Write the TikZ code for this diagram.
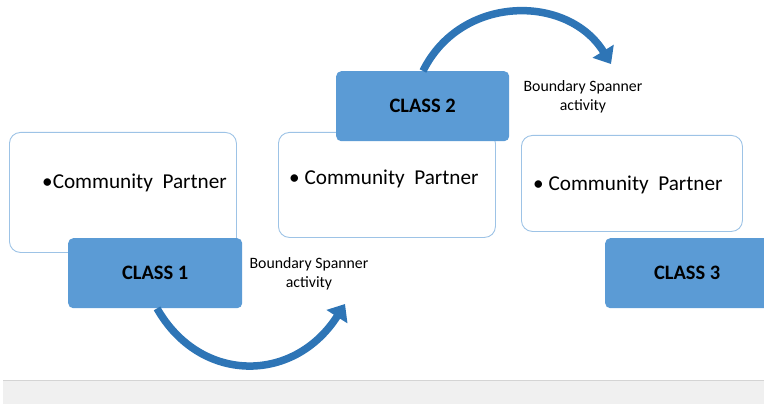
\documentclass[tikz,border=0pt]{standalone}
\usepackage{fontspec}
\setmainfont{Carlito}
\usetikzlibrary{arrows.meta,calc}
\definecolor{classfill}{HTML}{5B9BD5}
\definecolor{arrowblue}{HTML}{2E75B6}
\definecolor{boxline}{HTML}{9DC3E6}
\definecolor{bandgray}{HTML}{F0F0F0}
\definecolor{bandline}{HTML}{D4D4D4}
\tikzset{
  partnerbox/.style={draw=boxline, line width=0.9pt, fill=white, rounded corners=11pt, anchor=north west, inner sep=0pt},
  classbox/.style={fill=classfill, rounded corners=5pt, anchor=north west, inner sep=0pt, font=\fontsize{20.5}{24}\selectfont\bfseries, text=black},
  partnertext/.style={anchor=west, font=\fontsize{21.2}{25}\selectfont, inner sep=0pt},
  spannertext/.style={align=center, font=\fontsize{15.8}{19}\selectfont, inner sep=0pt},
  bigarrow/.style={draw=arrowblue, line width=7.5pt, -{Triangle[length=15pt,width=24pt]}},
}
\begin{document}
\begin{tikzpicture}[x=1pt,y=-1pt]
\useasboundingbox (0,0) rectangle (764,404);
% bottom band
\fill[bandgray] (3,380) rectangle (764,404);
\draw[bandline, line width=1pt] (3,380) -- (764,380);
% partner boxes
\node[partnerbox, minimum width=227pt, minimum height=120pt] (b1) at (9,132) {};
\node[partnerbox, minimum width=217pt, minimum height=105pt] (b2) at (278,132) {};
\node[partnerbox, minimum width=221pt, minimum height=96pt] (b3) at (521,135) {};
\node[partnertext] (t1) at ($(b1.north west)+(33,51)$) {•Community\ \ Partner};
\node[partnertext] (t2) at ($(b2.north west)+(11,47)$) {•\ Community\ \ Partner};
\node[partnertext] (t3) at ($(b3.north west)+(12,50)$) {•\ Community\ \ Partner};
% class boxes
\node[classbox, minimum width=174pt, minimum height=70pt] (c1) at (68,238) {CLASS 1};
\node[classbox, minimum width=173pt, minimum height=70pt] (c2) at (336,71) {CLASS 2};
\node[classbox, minimum width=164pt, minimum height=70pt] (c3) at (605,238) {CLASS 3};
% spanner labels
\node[spannertext] (s1) at (309,274) {Boundary Spanner\\activity};
\node[spannertext] (s2) at (583,97) {Boundary Spanner\\activity};
% arrows
\coordinate (e1) at (345,304);
\coordinate (e2) at (611,64);
\draw[bigarrow] ($(c1.south west)+(89,0)$) .. controls (200,384) and (294,384) .. (e1);
\draw[bigarrow] ($(c2.north west)+(87,0)$) .. controls (461,-6) and (568,-6) .. (e2);
\end{tikzpicture}
\end{document}
